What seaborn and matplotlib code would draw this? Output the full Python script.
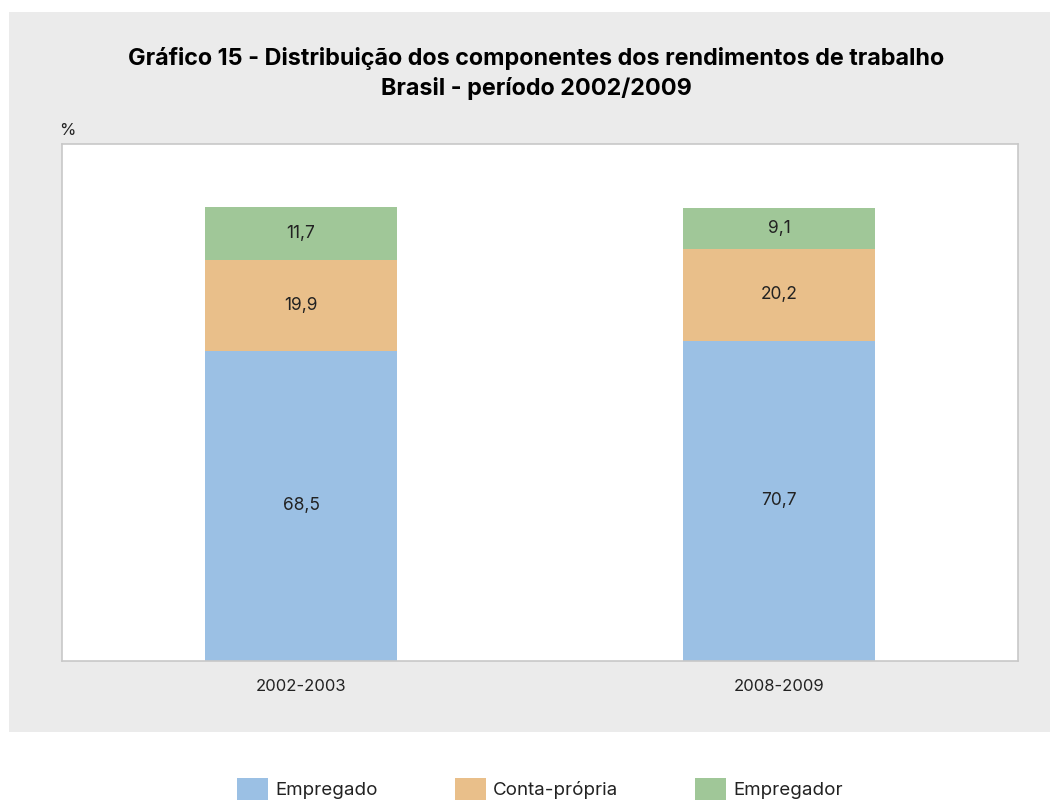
import pandas as pd
import matplotlib.pyplot as plt
import matplotlib.patches as mpatches
import seaborn as sns

# Dados do gráfico (%)
periodos = ["2002-2003", "2008-2009"]
empregado = [68.5, 70.7]
conta_propria = [19.9, 20.2]
empregador = [11.7, 9.1]
componentes = ["Empregado", "Conta-própria", "Empregador"]
cores = ["#9BC0E4", "#E9BF8A", "#A0C798"]

sns.set_theme(style="white")
plt.rcParams["font.family"] = ["Inter", "DejaVu Sans"]

df = pd.DataFrame({
    "Periodo": periodos,
    "Empregado": empregado,
    "Conta-própria": conta_propria,
    "Empregador": empregador,
})
# acumulados para empilhar (desenha do topo para a base)
df["ate_conta"] = df["Empregado"] + df["Conta-própria"]
df["total"] = df["ate_conta"] + df["Empregador"]

fig = plt.figure(figsize=(10.56, 8.01), dpi=100)
fig.patch.set_facecolor("white")
fig.patches.append(mpatches.Rectangle((9 / 1056, 1 - 732 / 801), 1041 / 1056, 720 / 801,
                                      transform=fig.transFigure, facecolor="#EBEBEB",
                                      edgecolor="none", zorder=-10))

ax = fig.add_axes([62 / 1056, 1 - 661 / 801, 956 / 1056, 517 / 801])
ax.set_facecolor("white")

for col, cor in zip(["total", "ate_conta", "Empregado"], cores[::-1]):
    sns.barplot(data=df, x="Periodo", y=col, color=cor, width=0.4,
                saturation=1, edgecolor="none", linewidth=0, ax=ax)

# rótulos dos segmentos
for i in range(len(periodos)):
    base = 0
    for nome in componentes:
        v = df.loc[i, nome]
        ax.text(i, base + v / 2, f"{v:.1f}".replace(".", ","), ha="center", va="center",
                fontsize=12.5, color="#222222")
        base += v

ax.set_xlim(-0.5, 1.5)
ax.set_ylim(0, 114.1)
ax.set_yticks([])
ax.set_xlabel("")
ax.set_ylabel("")
ax.tick_params(axis="x", length=0, pad=13, labelsize=12, colors="#222222")
for s in ax.spines.values():
    s.set_color("#C8C8C8")
    s.set_linewidth(1.2)

ax.text(-0.003, 1.012, "%", transform=ax.transAxes, ha="left", va="bottom",
        fontsize=12, color="#222222")

fig.text(536 / 1056, 1 - 58 / 801, "Gráfico 15 - Distribuição dos componentes dos rendimentos de trabalho",
         ha="center", va="center", fontsize=16.8, fontweight="bold", color="black")
fig.text(536 / 1056, 1 - 88 / 801, "Brasil - período 2002/2009",
         ha="center", va="center", fontsize=16.8, fontweight="bold", color="black")

handles = [mpatches.Patch(facecolor=c, edgecolor="none", label=n) for n, c in zip(componentes, cores)]
fig.legend(handles=handles, loc="center", bbox_to_anchor=(540 / 1056, 1 - 789 / 801), ncol=3,
           frameon=False, fontsize=13.5, handlelength=1.65, handleheight=1.39,
           handletextpad=0.38, columnspacing=4.1, labelcolor="#222222")

fig.savefig("out.png", dpi=100, facecolor="white")
